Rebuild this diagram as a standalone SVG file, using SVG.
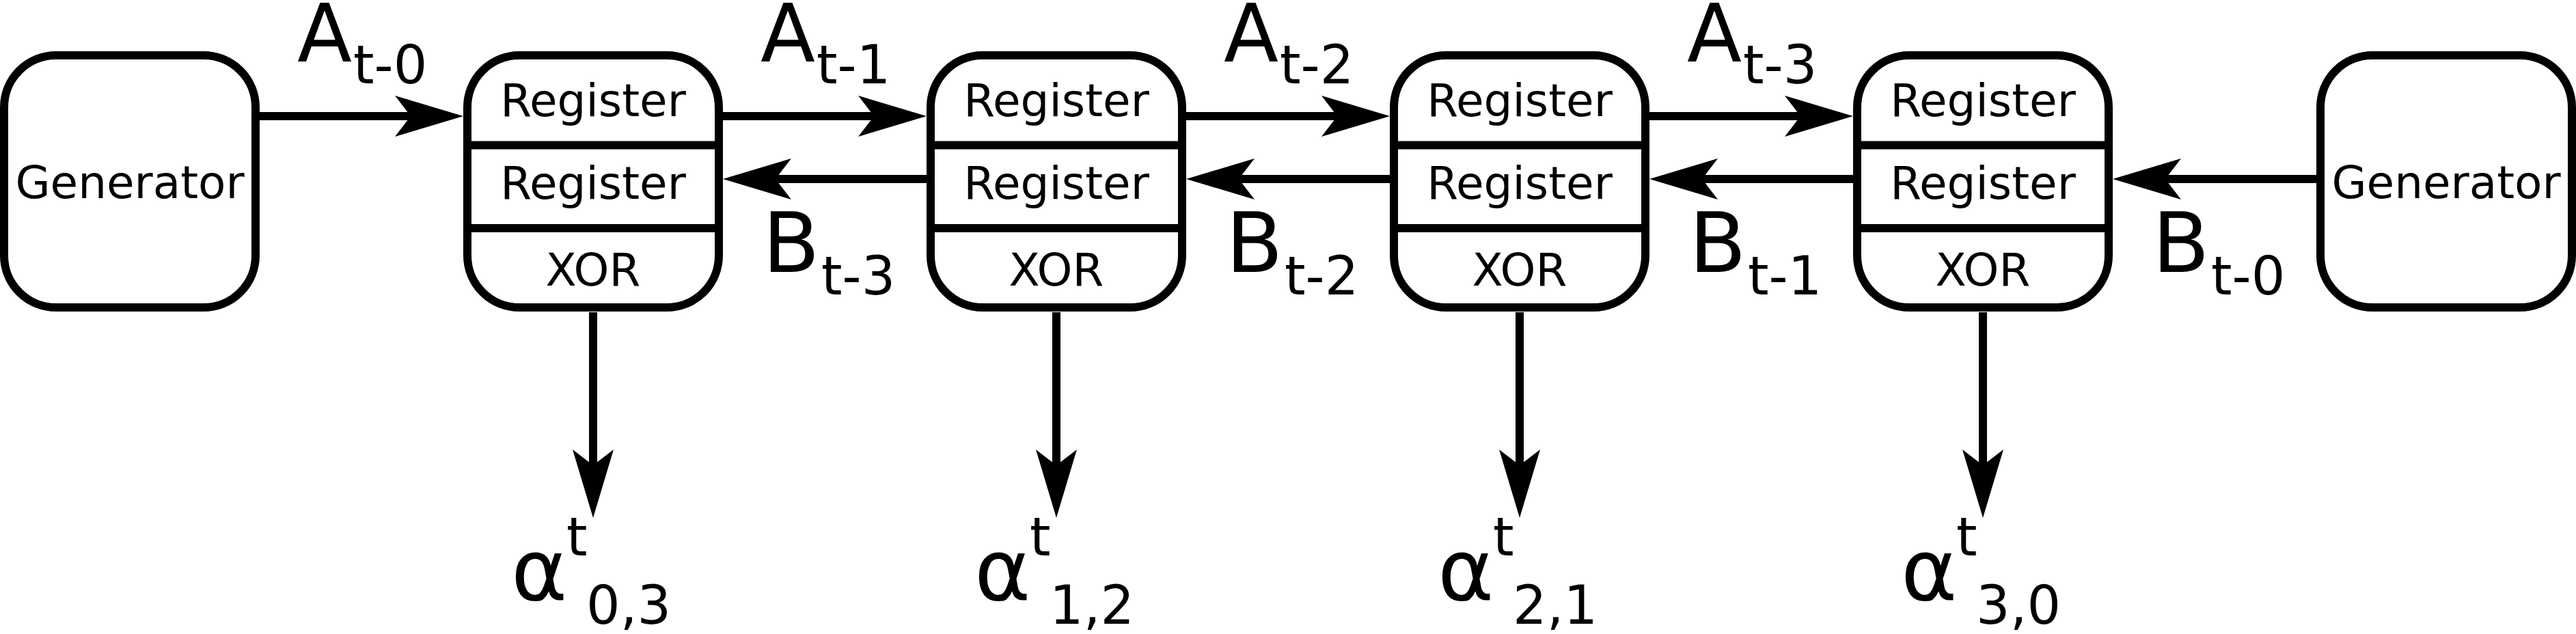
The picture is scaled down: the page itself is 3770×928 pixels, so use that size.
<svg xmlns="http://www.w3.org/2000/svg" width="3770" height="928" viewBox="0 0 3770 928">
<style>
.box{fill:#fff;stroke:#000;stroke-width:12}
.div{stroke:#000;stroke-width:12;fill:none}
.cn{stroke:#000;stroke-width:12;fill:none;marker-end:url(#ah)}
text{font-family:"DejaVu Sans","Liberation Sans",sans-serif;fill:#000}
.nt{font-size:66px;text-anchor:middle}
.big{font-size:122px}
.bigA{font-size:117px}
.sub{font-size:78px}
.al{font-size:125px}
</style>
<defs>
<marker id="ah" markerUnits="userSpaceOnUse" viewBox="0 0 100 60" markerWidth="100" markerHeight="60" refX="30" refY="30" orient="auto">
<path d="M0,0 L100,30 L0,60 L23,30 Z" fill="#000"/>
</marker>
</defs>
<rect width="3770" height="928" fill="#fff"/>
<g id="connectors">
<path class="cn" d="M380,170 H608"/>
<path class="cn" d="M1058,170 H1286"/>
<path class="cn" d="M1736,170 H1964"/>
<path class="cn" d="M2414,170 H2642"/>
<path class="cn" d="M1356,262 H1128"/>
<path class="cn" d="M2034,262 H1806"/>
<path class="cn" d="M2712,262 H2484"/>
<path class="cn" d="M3390,262 H3162"/>
<path class="cn" d="M868,457 V688"/>
<path class="cn" d="M1546,457 V688"/>
<path class="cn" d="M2224,457 V688"/>
<path class="cn" d="M2902,457 V688"/>
</g>
<g id="generator-left">
<rect class="box" x="6" y="81" width="368" height="369" rx="76"/>
<text class="nt" x="190" y="290">Generator</text>
</g>
<g id="register-1">
<rect class="box" x="684" y="81" width="368" height="369" rx="76"/>
<path class="div" d="M684,212.5 H1052 M684,334 H1052"/>
<text class="nt" x="868" y="170">Register</text>
<text class="nt" x="868" y="291">Register</text>
<text class="nt" x="868" y="418">XOR</text>
</g>
<g id="register-2">
<rect class="box" x="1362" y="81" width="368" height="369" rx="76"/>
<path class="div" d="M1362,212.5 H1730 M1362,334 H1730"/>
<text class="nt" x="1546" y="170">Register</text>
<text class="nt" x="1546" y="291">Register</text>
<text class="nt" x="1546" y="418">XOR</text>
</g>
<g id="register-3">
<rect class="box" x="2040" y="81" width="368" height="369" rx="76"/>
<path class="div" d="M2040,212.5 H2408 M2040,334 H2408"/>
<text class="nt" x="2224" y="170">Register</text>
<text class="nt" x="2224" y="291">Register</text>
<text class="nt" x="2224" y="418">XOR</text>
</g>
<g id="register-4">
<rect class="box" x="2718" y="81" width="368" height="369" rx="76"/>
<path class="div" d="M2718,212.5 H3086 M2718,334 H3086"/>
<text class="nt" x="2902" y="170">Register</text>
<text class="nt" x="2902" y="291">Register</text>
<text class="nt" x="2902" y="418">XOR</text>
</g>
<g id="generator-right">
<rect class="box" x="3396" y="81" width="368" height="369" rx="76"/>
<text class="nt" x="3580" y="290">Generator</text>
</g>
<g id="labels-a">
<text x="435" y="90"><tspan class="bigA">A</tspan><tspan class="sub" x="517" y="122">t-0</tspan></text>
<text x="1113" y="90"><tspan class="bigA">A</tspan><tspan class="sub" x="1195" y="122">t-1</tspan></text>
<text x="1791" y="90"><tspan class="bigA">A</tspan><tspan class="sub" x="1873" y="122">t-2</tspan></text>
<text x="2469" y="90"><tspan class="bigA">A</tspan><tspan class="sub" x="2551" y="122">t-3</tspan></text>
</g>
<g id="labels-b">
<text x="1116" y="398"><tspan class="big">B</tspan><tspan class="sub" x="1202" y="431">t-3</tspan></text>
<text x="1794" y="398"><tspan class="big">B</tspan><tspan class="sub" x="1880" y="431">t-2</tspan></text>
<text x="2472" y="398"><tspan class="big">B</tspan><tspan class="sub" x="2558" y="431">t-1</tspan></text>
<text x="3150" y="398"><tspan class="big">B</tspan><tspan class="sub" x="3236" y="431">t-0</tspan></text>
</g>
<g id="labels-alpha">
<text x="748" y="878"><tspan class="al">α</tspan><tspan class="sub" x="829" y="813">t</tspan><tspan class="sub" x="858" y="913">0,3</tspan></text>
<text x="1426" y="878"><tspan class="al">α</tspan><tspan class="sub" x="1507" y="813">t</tspan><tspan class="sub" x="1536" y="913">1,2</tspan></text>
<text x="2104" y="878"><tspan class="al">α</tspan><tspan class="sub" x="2185" y="813">t</tspan><tspan class="sub" x="2214" y="913">2,1</tspan></text>
<text x="2782" y="878"><tspan class="al">α</tspan><tspan class="sub" x="2863" y="813">t</tspan><tspan class="sub" x="2892" y="913">3,0</tspan></text>
</g>
</svg>
